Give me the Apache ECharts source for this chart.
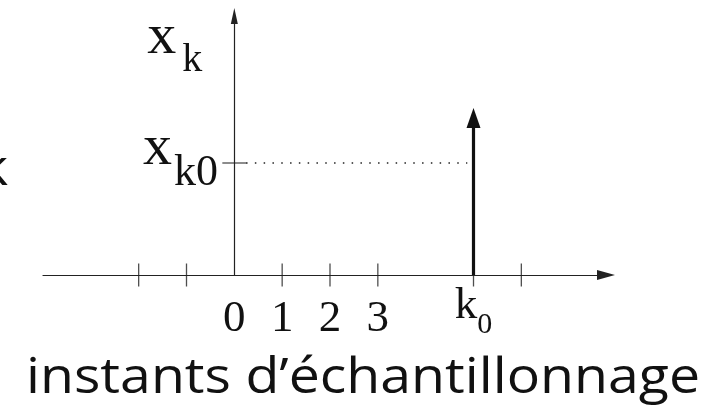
<!DOCTYPE html>
<html>
<head>
<meta charset="utf-8">
<title>instants d’échantillonnage</title>
<script src="https://cdn.jsdelivr.net/npm/echarts@6/dist/echarts.min.js"></script>
<style>
  html, body { margin: 0; padding: 0; background: #fff; }
  #chart { width: 724px; height: 405px; }
</style>
</head>
<body>
<div id="chart"></div>
<script>
// Sample index axis (k) and amplitude axis (x_k)
const kRange = [-4, 7.77];
const xRange = [0, 5.18];

// Tick marks on the k axis, and the labelled sample instants
const kTicks = [-2, -1, 1, 2, 3, 5, 6];
const kLabelValues = [0, 1, 2, 3, 5];
const kLabelTexts = ['0', '1', '2', '3', 'k0'];

// Single impulse at k0 and the reference level x_k0
const k0 = 5;
const impulseValue = 3.34;
const xk0 = 2.24;
const guideFrom = 0.245;
const guideTo = 4.87;

const titleText = 'instants d’échantillonnage';

const ink = '#111';
const axisInk = '#222';
const serif = '"Liberation Serif", "DejaVu Serif", serif';
const sansFamily = 'Open Sans';

// Fit the caption to its horizontal span
function measure(text, font) {
  const c = document.createElement('canvas').getContext('2d');
  c.font = font;
  return c.measureText(text).width;
}
const titleSize = 50;
const titleSpan = 674;
const titleScale = titleSpan / measure(titleText, titleSize + 'px "' + sansFamily + '"');

const gridLeft = 43;

const chart = echarts.init(document.getElementById('chart'), null, { renderer: 'canvas' });

const option = {
  animation: false,
  backgroundColor: '#fff',
  grid: { left: gridLeft, right: 118, top: 16, bottom: 130, containLabel: false, outerBoundsMode: 'none' },
  xAxis: {
    type: 'value',
    min: kRange[0],
    max: kRange[1],
    splitLine: { show: false },
    axisTick: { show: false },
    axisLine: {
      onZero: true,
      lineStyle: { color: axisInk, width: 1.2 },
      symbol: ['none', 'triangle'],
      symbolSize: [10, 18]
    },
    axisLabel: {
      customValues: kLabelValues,
      margin: 8,
      color: ink,
      hideOverlap: false,
      formatter: function (v) {
        const t = kLabelTexts[kLabelValues.indexOf(v)];
        if (t === undefined) return '';
        if (t.length > 1) return '{k|' + t[0] + '}{s|' + t.slice(1) + '}';
        return '{d|' + t + '}';
      },
      rich: {
        d: { fontFamily: serif, fontSize: 45, lineHeight: 60, verticalAlign: 'top', padding: [14, 0, 0, 0], color: ink },
        k: { fontFamily: serif, fontSize: 45, lineHeight: 60, verticalAlign: 'top', padding: [1, 0, 0, 0], color: ink },
        s: { fontFamily: serif, fontSize: 30, lineHeight: 60, verticalAlign: 'top', padding: [27, 0, 0, 0], color: ink }
      }
    }
  },
  yAxis: {
    type: 'value',
    min: xRange[0],
    max: xRange[1],
    splitLine: { show: false },
    axisTick: { show: false },
    axisLine: {
      onZero: true,
      lineStyle: { color: axisInk, width: 1.2 },
      symbol: ['none', 'triangle'],
      symbolSize: [7, 16]
    },
    name: '{x|x}{s|k}',
    nameLocation: 'end',
    nameGap: 7,
    nameMoveOverlap: false,
    nameTextStyle: {
      align: 'right',
      verticalAlign: 'top',
      padding: [0, 32, 0, 0],
      rich: {
        x: { fontFamily: serif, fontSize: 58, lineHeight: 72, verticalAlign: 'top', padding: [0, 6, 0, 0], color: ink },
        s: { fontFamily: serif, fontSize: 40, lineHeight: 72, verticalAlign: 'top', padding: [31, 0, 0, 0], color: ink }
      }
    },
    axisLabel: {
      customValues: [xk0],
      // labels sit at the grid edge; pull this one across to the k = 0 axis
      margin: gridLeft - 218,
      hideOverlap: false,
      formatter: function () { return '{x|x}{s|k0}'; },
      rich: {
        x: { fontFamily: serif, fontSize: 58, lineHeight: 100, verticalAlign: 'top', padding: [7, 2, 0, 0], color: ink },
        s: { fontFamily: serif, fontSize: 44, lineHeight: 100, verticalAlign: 'top', padding: [38, 0, 0, 0], color: ink }
      }
    }
  },
  graphic: [
    {
      type: 'text',
      x: 26,
      y: 379,
      scaleX: titleScale,
      style: {
        text: titleText,
        fontSize: titleSize,
        fontFamily: sansFamily,
        fill: ink,
        align: 'left',
        verticalAlign: 'middle',
        textAlign: 'left',
        textVerticalAlign: 'middle'
      }
    },
    {
      type: 'text',
      x: 8,
      y: 171,
      scaleX: titleScale,
      style: {
        text: 'k',
        fontSize: titleSize,
        fontFamily: sansFamily,
        fill: ink,
        align: 'right',
        verticalAlign: 'middle',
        textAlign: 'right',
        textVerticalAlign: 'middle'
      }
    }
  ],
  series: [
    {
      // crossing tick marks on the k axis
      type: 'scatter',
      silent: true,
      symbol: 'rect',
      symbolSize: [1.3, 23],
      itemStyle: { color: axisInk },
      data: kTicks.map(function (k) { return [k, 0]; }),
      z: 3
    },
    {
      // tick mark for the level x_k0
      type: 'scatter',
      silent: true,
      symbol: 'rect',
      symbolSize: [24, 1.3],
      itemStyle: { color: axisInk },
      data: [[0, xk0]],
      z: 3
    },
    {
      // dotted guide from the x_k0 level
      type: 'line',
      silent: true,
      symbol: 'none',
      lineStyle: { color: axisInk, width: 1.3, type: [1.5, 7.3] },
      data: [[guideFrom, xk0], [guideTo, xk0]],
      z: 2
    },
    {
      // the impulse at k0, drawn as an arrow
      type: 'custom',
      silent: true,
      data: [[k0, impulseValue]],
      renderItem: function (params, api) {
        const base = api.coord([api.value(0), 0]);
        const tip = api.coord([api.value(0), api.value(1)]);
        const headLen = 20, headHalf = 7;
        return {
          type: 'group',
          children: [
            {
              type: 'line',
              shape: { x1: base[0], y1: base[1], x2: tip[0], y2: tip[1] + headLen - 1 },
              style: { stroke: ink, lineWidth: 3.2 }
            },
            {
              type: 'polygon',
              shape: { points: [[tip[0] - headHalf, tip[1] + headLen], [tip[0] + headHalf, tip[1] + headLen], [tip[0], tip[1]]] },
              style: { fill: ink }
            }
          ]
        };
      },
      z: 4
    }
  ]
};

chart.setOption(option);
</script>
</body>
</html>
